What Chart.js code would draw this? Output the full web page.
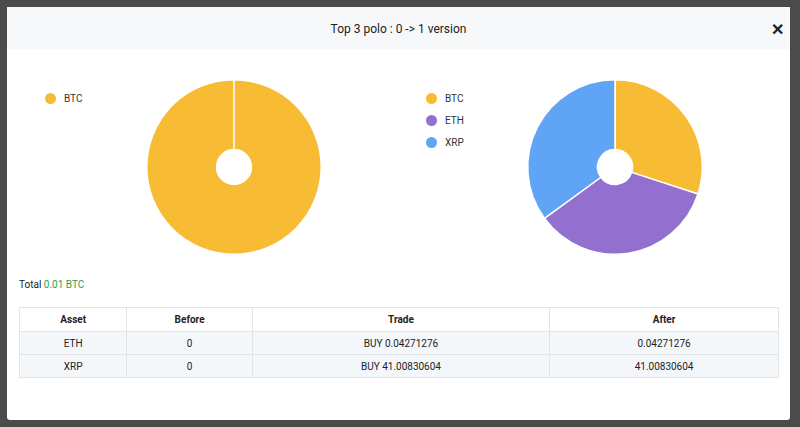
<!DOCTYPE html>
<html><head><meta charset="utf-8">
<script src="https://cdn.jsdelivr.net/npm/chart.js@4"></script>
<style>
body{margin:0;width:800px;height:427px;background:#4b4b4b;font-family:"Liberation Sans Narrow","Roboto",sans-serif;overflow:hidden;position:relative}
.modal{position:absolute;left:7px;top:7px;width:783px;height:413px;background:#fff;border-radius:3px}
.hdr{height:42px;background:#f7f8fa;text-align:center;line-height:44px;font-size:12px;color:#222}
.x{position:absolute;right:6px;top:1px;font-size:16px;font-weight:bold;font-family:Arial,sans-serif}
.lg{position:absolute;font-size:10px;color:#333}
.lg div{height:22px;display:flex;align-items:center}
.lg span{display:inline-block;width:11px;height:11px;border-radius:50%;margin-right:8px}
canvas{position:absolute}
.total{position:absolute;left:12px;top:272px;font-size:10px;color:#222}
table{position:absolute;left:12px;top:300px;width:760px;border-collapse:collapse;font-size:10px;color:#222}
td,th{border:1px solid #e2e5e8;text-align:center;height:22px;padding:0}
tr.r{background:#f4f7fa}
</style></head><body>
<div class="modal">
<div class="hdr">Top 3 polo : 0 -&gt; 1 version<span class="x">✕</span></div>
<div class="lg" id="lg1" style="left:38px;top:80px"></div>
<div class="lg" id="lg2" style="left:419px;top:80px"></div>
<div style="position:absolute;left:137px;top:70px;width:180px;height:180px"><canvas id="c1"></canvas></div>
<div style="position:absolute;left:518px;top:70px;width:180px;height:180px"><canvas id="c2"></canvas></div>
<div class="total">Total <span style="color:#1fa050">0.01 BTC</span></div>
<table id="tb"></table>
</div>
<script>
const colors=['#F7BC33','#9370D0','#60A5F5'];
const beforeLabels=['BTC'];
const beforeValues=[0.01];
const afterLabels=['BTC','ETH','XRP'];
const afterValues=[30,35,35];
const tableHead=['Asset','Before','Trade','After'];
const tableRows=[['ETH','0','BUY 0.04271276','0.04271276'],['XRP','0','BUY 41.00830604','41.00830604']];
const colW=['107px','125px','298px','229px'];
function lg(id,labels){document.getElementById(id).innerHTML=labels.map((l,i)=>`<div><span style="background:${colors[i]}"></span>${l}</div>`).join('');}
lg('lg1',beforeLabels);lg('lg2',afterLabels);
function mk(id,labels,vals){new Chart(document.getElementById(id),{type:'doughnut',data:{labels,datasets:[{data:vals,backgroundColor:colors.slice(0,vals.length),borderColor:'#fff',borderWidth:1.5}]},options:{responsive:true,maintainAspectRatio:false,animation:false,cutout:'20%',layout:{padding:2},plugins:{legend:{display:false},tooltip:{enabled:false}}}});}
mk('c1',beforeLabels,beforeValues);mk('c2',afterLabels,afterValues);
let h='<tr>'+tableHead.map((t,i)=>`<th style="width:${colW[i]};height:23px">${t}</th>`).join('')+'</tr>';
h+=tableRows.map(r=>'<tr class="r">'+r.map(c=>`<td>${c}</td>`).join('')+'</tr>').join('');
document.getElementById('tb').innerHTML=h;
</script>
</body></html>
